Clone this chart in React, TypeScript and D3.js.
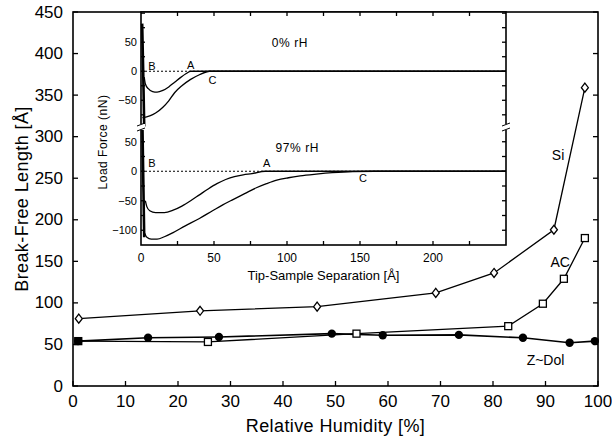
import React from "react";
import * as d3 from "d3";

// ---- main chart data ----
const humidityTicks = [0, 10, 20, 30, 40, 50, 60, 70, 80, 90, 100];
const lengthTicks = [0, 50, 100, 150, 200, 250, 300, 350, 400, 450];

const siHumidity = [1.1, 24.2, 46.5, 69.1, 80.2, 91.6, 97.5];
const siLength = [81, 90.5, 95.5, 112, 136, 188, 359];
const acHumidity = [1, 25.7, 54, 82.9, 89.5, 93.5, 97.5];
const acLength = [54, 53, 63, 72, 99, 129, 178];
const zdolHumidity = [1, 14.3, 27.8, 49.3, 59, 73.5, 85.7, 94.6, 99.4];
const zdolLength = [54, 58, 59, 63, 61, 61.5, 58, 52, 54];

// ---- inset data ----
const sepTicks = [0, 50, 100, 150, 200];
const forceTicksUpper = [50, 0, -50];
const forceTicksLower = [50, 0, -50, -100];

const dryContactSep = [0.8, 1.5, 2.2];
const dryContactForce = [82, 0, -95];
const dryApproachSep = [2.2, 3, 5, 8, 11, 15, 19, 23, 27, 31, 34, 250];
const dryApproachForce = [-10, -22, -30, -35, -36, -33, -27, -19, -11, -4, 0, 0];
const dryRetractSep = [1, 3, 6, 10, 15, 19, 23, 28, 34, 40, 47, 250];
const dryRetractForce = [-80, -79, -77, -72, -62, -51, -37, -25, -14, -6, 0, 0];

const wetContactSep = [1, 1.6, 2.2];
const wetContactForce = [75, -20, -112];
const wetApproachSep = [3, 4, 6, 10, 16, 22, 28, 34, 40, 46, 52, 58, 64, 70, 76, 85, 250];
const wetApproachForce = [-50, -60, -67, -70, -70, -66, -59, -50, -40, -30, -21, -14, -9, -6, -4, 0, 0];
const wetRetractSep = [2.5, 4, 7, 11, 16, 22, 30, 40, 49, 56, 63, 71, 79, 86, 93, 101, 109, 120, 131, 145, 160, 250];
const wetRetractForce = [-105, -112, -115, -115, -111, -104, -93, -80, -67, -57, -48, -38, -28, -21, -15, -11, -8, -5, -2.5, -0.5, 0, 0];

const FONT = "'Liberation Sans', Arial, sans-serif";

const zip = (a: number[], b: number[]) => a.map((v, i) => [v, b[i]] as [number, number]);

export default function App() {
  const x = d3.scaleLinear().domain([0, 100]).range([73, 598]);
  const y = d3.scaleLinear().domain([0, 450]).range([386, 12]);

  const ix = d3.scaleLinear().domain([0, 250]).range([141, 506]);
  const iyU = d3.scaleLinear().domain([-96, 102]).range([127, 12]);
  const iyL = d3.scaleLinear().domain([-125, 75]).range([245, 127]);

  const mainLine = d3.line<[number, number]>().x((d) => x(d[0])).y((d) => y(d[1]));
  const upLine = d3.line<[number, number]>().x((d) => ix(d[0])).y((d) => iyU(d[1])).curve(d3.curveMonotoneX);
  const lowLine = d3.line<[number, number]>().x((d) => ix(d[0])).y((d) => iyL(d[1])).curve(d3.curveMonotoneX);
  const upStraight = d3.line<[number, number]>().x((d) => ix(d[0])).y((d) => iyU(d[1]));
  const lowStraight = d3.line<[number, number]>().x((d) => ix(d[0])).y((d) => iyL(d[1]));

  const si = zip(siHumidity, siLength);
  const ac = zip(acHumidity, acLength);
  const zd = zip(zdolHumidity, zdolLength);

  const insetMinorU = d3.range(-75, 101, 25);
  const insetMinorL = d3.range(-100, 76, 25);
  const insetTopTicks = d3.range(25, 250, 25);

  const stroke = "#000";

  return (
    <svg width={612} height={441} style={{ position: "absolute", left: 0, top: 0 }} fontFamily={FONT}>
      <rect width={612} height={441} fill="#fff" />

      {/* main frame */}
      <rect x={x(0)} y={y(450)} width={x(100) - x(0)} height={y(0) - y(450)} fill="none" stroke={stroke} strokeWidth={1.6} />

      {/* main x ticks */}
      {humidityTicks.map((t) => (
        <g key={"xt" + t}>
          <line x1={x(t)} x2={x(t)} y1={y(0)} y2={y(0) - 5} stroke={stroke} strokeWidth={1.3} />
          <text x={x(t)} y={407} textAnchor="middle" fontSize={17}>{t}</text>
        </g>
      ))}
      {/* main y ticks */}
      {lengthTicks.map((t) => (
        <g key={"yt" + t}>
          <line x1={x(0)} x2={x(0) + 5} y1={y(t)} y2={y(t)} stroke={stroke} strokeWidth={1.3} />
          <line x1={x(100)} x2={x(100) - 5} y1={y(t)} y2={y(t)} stroke={stroke} strokeWidth={1.3} />
          <text x={63} y={y(t)} textAnchor="end" dominantBaseline="central" fontSize={17}>{t}</text>
        </g>
      ))}

      <text x={(x(0) + x(100)) / 2} y={432} textAnchor="middle" fontSize={18} letterSpacing={0.4}>
        Relative Humidity [%]
      </text>
      <text
        transform={`translate(22, ${(y(0) + y(450)) / 2}) rotate(-90)`}
        textAnchor="middle"
        dominantBaseline="central"
        fontSize={18}
        letterSpacing={0.4}
      >
        Break-Free Length [Å]
      </text>

      {/* main series lines */}
      <path d={mainLine(si) || ""} fill="none" stroke={stroke} strokeWidth={1.3} />
      <path d={mainLine(ac) || ""} fill="none" stroke={stroke} strokeWidth={1.3} />
      <path d={mainLine(zd) || ""} fill="none" stroke={stroke} strokeWidth={1.6} />

      {/* markers */}
      {zd.map((d, i) => (
        <circle key={"zd" + i} cx={x(d[0])} cy={y(d[1])} r={4.2} fill="#000" />
      ))}
      {ac.map((d, i) => (
        <rect key={"ac" + i} x={x(d[0]) - 3.5} y={y(d[1]) - 3.5} width={7} height={7} fill={i === 0 ? "#000" : "#fff"} stroke={stroke} strokeWidth={1.3} />
      ))}
      {si.map((d, i) => (
        <path
          key={"si" + i}
          d={`M${x(d[0])},${y(d[1]) - 4.5} L${x(d[0]) + 3.5},${y(d[1])} L${x(d[0])},${y(d[1]) + 4.5} L${x(d[0]) - 3.5},${y(d[1])} Z`}
          fill="#fff"
          stroke={stroke}
          strokeWidth={1.3}
        />
      ))}

      <text x={x(92.4)} y={y(278)} textAnchor="middle" dominantBaseline="central" fontSize={14}>Si</text>
      <text x={x(92.8)} y={y(149)} textAnchor="middle" dominantBaseline="central" fontSize={14}>AC</text>
      <text x={x(90)} y={y(31)} textAnchor="middle" dominantBaseline="central" fontSize={14}>Z~Dol</text>

      {/* ---- inset ---- */}
      <rect x={ix(0)} y={iyU(102)} width={ix(250) - ix(0)} height={iyL(-125) - iyU(102)} fill="#fff" stroke={stroke} strokeWidth={1.6} />

      {/* inset ticks */}
      {insetTopTicks.map((t) => (
        <g key={"itt" + t}>
          <line x1={ix(t)} x2={ix(t)} y1={iyU(102)} y2={iyU(102) + 4} stroke={stroke} strokeWidth={1.3} />
          <line x1={ix(t)} x2={ix(t)} y1={iyL(-125)} y2={iyL(-125) - 4} stroke={stroke} strokeWidth={1.3} />
        </g>
      ))}
      {sepTicks.map((t) => (
        <text key={"ist" + t} x={ix(t)} y={262} textAnchor="middle" fontSize={12}>{t}</text>
      ))}
      {insetMinorU.map((t) => (
        <g key={"imu" + t}>
          <line x1={ix(250)} x2={ix(250) - 4} y1={iyU(t)} y2={iyU(t)} stroke={stroke} strokeWidth={1.3} />
          <line x1={ix(0)} x2={ix(0) + 4} y1={iyU(t)} y2={iyU(t)} stroke={stroke} strokeWidth={1.3} />
        </g>
      ))}
      {insetMinorL.map((t) => (
        <g key={"iml" + t}>
          <line x1={ix(250)} x2={ix(250) - 4} y1={iyL(t)} y2={iyL(t)} stroke={stroke} strokeWidth={1.3} />
          <line x1={ix(0)} x2={ix(0) + 4} y1={iyL(t)} y2={iyL(t)} stroke={stroke} strokeWidth={1.3} />
        </g>
      ))}
      {forceTicksUpper.map((t) => (
        <text key={"ifu" + t} x={137} y={iyU(t)} textAnchor="end" dominantBaseline="central" fontSize={11}>
          {t < 0 ? "−" + Math.abs(t) : t}
        </text>
      ))}
      {forceTicksLower.map((t) => (
        <text key={"ifl" + t} x={137} y={iyL(t)} textAnchor="end" dominantBaseline="central" fontSize={11}>
          {t < 0 ? "−" + Math.abs(t) : t}
        </text>
      ))}

      {/* zero reference lines */}
      <line x1={ix(0)} x2={ix(250)} y1={iyU(0)} y2={iyU(0)} stroke={stroke} strokeWidth={1} strokeDasharray="2,2" />
      <line x1={ix(0)} x2={ix(250)} y1={iyL(0)} y2={iyL(0)} stroke={stroke} strokeWidth={1} strokeDasharray="2,2" />

      {/* curves */}
      <path d={upStraight(zip(dryContactSep, dryContactForce)) || ""} fill="none" stroke={stroke} strokeWidth={2.6} />
      <path d={upLine(zip(dryApproachSep, dryApproachForce)) || ""} fill="none" stroke={stroke} strokeWidth={1.3} />
      <path d={upLine(zip(dryRetractSep, dryRetractForce)) || ""} fill="none" stroke={stroke} strokeWidth={1.3} />
      <path d={lowStraight(zip(wetContactSep, wetContactForce)) || ""} fill="none" stroke={stroke} strokeWidth={2.6} />
      <path d={lowLine(zip(wetApproachSep, wetApproachForce)) || ""} fill="none" stroke={stroke} strokeWidth={1.3} />
      <path d={lowLine(zip(wetRetractSep, wetRetractForce)) || ""} fill="none" stroke={stroke} strokeWidth={1.3} />

      {/* axis breaks */}
      {[ix(0), ix(250)].map((bx, i) => (
        <g key={"brk" + i}>
          <rect x={bx - 4} y={124} width={8} height={6} fill="#fff" />
          <line x1={bx - 4} x2={bx + 4} y1={126} y2={123} stroke={stroke} strokeWidth={1} />
          <line x1={bx - 4} x2={bx + 4} y1={131} y2={128} stroke={stroke} strokeWidth={1} />
        </g>
      ))}

      {/* inset annotations */}
      <text x={ix(7.5)} y={iyU(9)} textAnchor="middle" dominantBaseline="central" fontSize={11}>B</text>
      <text x={ix(34)} y={iyU(11)} textAnchor="middle" dominantBaseline="central" fontSize={11}>A</text>
      <text x={ix(49)} y={iyU(-15)} textAnchor="middle" dominantBaseline="central" fontSize={11}>C</text>
      <text x={ix(7.5)} y={iyL(14)} textAnchor="middle" dominantBaseline="central" fontSize={11}>B</text>
      <text x={ix(86)} y={iyL(14)} textAnchor="middle" dominantBaseline="central" fontSize={11}>A</text>
      <text x={ix(152)} y={iyL(-11)} textAnchor="middle" dominantBaseline="central" fontSize={11}>C</text>
      <text x={ix(102)} y={iyU(48)} textAnchor="middle" dominantBaseline="central" fontSize={12} letterSpacing={0.6}>0% rH</text>
      <text x={ix(107)} y={iyL(39)} textAnchor="middle" dominantBaseline="central" fontSize={12} letterSpacing={0.6}>97% rH</text>

      <text x={ix(125)} y={280} textAnchor="middle" fontSize={13}>Tip-Sample Separation [Å]</text>
      <text transform="translate(103, 142) rotate(-90)" textAnchor="middle" dominantBaseline="central" fontSize={12} letterSpacing={0.5}>
        Load Force (nN)
      </text>
    </svg>
  );
}
